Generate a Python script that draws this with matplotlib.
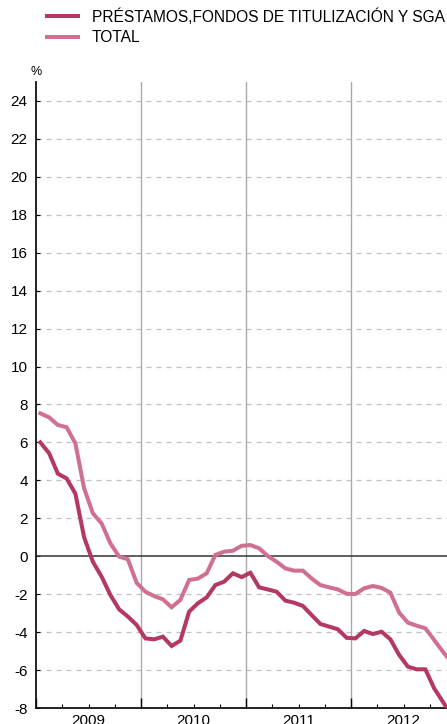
import matplotlib
matplotlib.use('Agg')
import matplotlib.pyplot as plt
import matplotlib.transforms as mtransforms
import numpy as np

plt.rcParams['font.family'] = ['Liberation Sans', 'DejaVu Sans']
plt.rcParams['axes.unicode_minus'] = False

# monthly series, Jan 2009 onwards (%)
prestamos = [6.0, 5.43, 4.35, 4.1, 3.3, 1.0, -0.29, -1.08, -2.04, -2.8, -3.18, -3.62,
             -4.33, -4.38, -4.24, -4.73, -4.45, -2.92, -2.48, -2.17, -1.52, -1.34, -0.9, -1.1,
             -0.87, -1.64, -1.75, -1.87, -2.34, -2.45, -2.62, -3.1, -3.57, -3.71, -3.85, -4.3,
             -4.33, -3.94, -4.1, -3.98, -4.38, -5.2, -5.82, -5.96, -5.96, -6.96, -7.67, -8.4]
total = [7.53, 7.32, 6.92, 6.8, 5.95, 3.58, 2.26, 1.73, 0.68, -0.02, -0.16, -1.4,
         -1.87, -2.1, -2.27, -2.69, -2.3, -1.25, -1.18, -0.9, 0.07, 0.24, 0.29, 0.55,
         0.59, 0.42, 0.01, -0.29, -0.64, -0.76, -0.76, -1.17, -1.52, -1.64, -1.75, -1.98,
         -1.99, -1.69, -1.57, -1.67, -1.92, -2.97, -3.5, -3.66, -3.8, -4.41, -5.03, -5.6]
years = ['2009', '2010', '2011', '2012']
labels = ['PRÉSTAMOS,FONDOS DE TITULIZACIÓN Y SGA', 'TOTAL']

dark = '#b4385f'
light = '#d0708f'

fig = plt.figure(figsize=(4.47, 7.24), dpi=100)
W, H = 447, 724
ax = fig.add_axes([36 / W, (H - 708) / H, (447 - 36) / W, (708 - 82) / H])

x = np.arange(len(prestamos)) + 0.5
l1, = ax.plot(x, prestamos, color=dark, lw=2.9, solid_joinstyle='miter', zorder=4)
l2, = ax.plot(x, total, color=light, lw=2.9, solid_joinstyle='miter', zorder=3)

ax.set_xlim(0, 411 / 8.75)
ax.set_ylim(-8, 25)

for v in range(-8, 25, 2):
    if v != 0:
        ax.axhline(v, color='#c0c0c0', lw=0.9, ls=(0, (4, 4)), zorder=1)
ax.axhline(0, color='#333333', lw=1.1, zorder=2)
for b in (12, 24, 36):
    ax.axvline(b, color='#aaaaaa', lw=1.0, zorder=1)

ax.set_yticks(range(-8, 25, 2))
ax.tick_params(axis='y', direction='in', length=3, width=0.8, labelsize=11, pad=6)
ax.set_xticks([0, 12, 24, 36])
ax.set_xticks(np.arange(3, 48, 3), minor=True)
ax.set_xticklabels([])
ax.tick_params(axis='x', which='major', direction='in', length=7, width=1.0)
ax.tick_params(axis='x', which='minor', direction='in', length=3, width=0.8)

for s in ('top', 'right'):
    ax.spines[s].set_visible(False)
for s in ('left', 'bottom'):
    ax.spines[s].set_linewidth(1.3)
    ax.spines[s].set_color('#111111')

trans = mtransforms.blended_transform_factory(ax.transData, ax.transAxes)
for i, yr in enumerate(years):
    ax.text(12 * i + 6, -0.01, yr, transform=trans, ha='center', va='top', fontsize=11)

fig.text(36 / W, 1 - 72 / H, '%', ha='center', va='center', fontsize=9)

fig.legend([l1, l2], labels, loc='upper left', bbox_to_anchor=(47 / W, 1 - 8 / H),
           frameon=False, fontsize=11.2, handlelength=2.0, handletextpad=0.9,
           labelspacing=0.35, borderaxespad=0, borderpad=0)

fig.savefig('out.png', dpi=100)
